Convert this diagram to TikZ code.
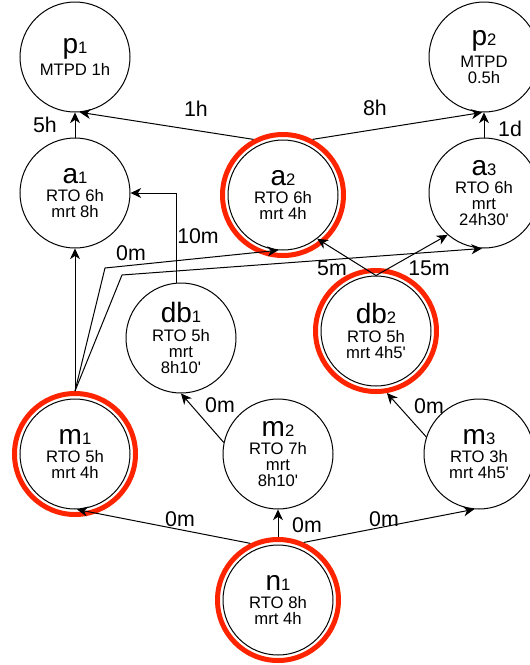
\documentclass[tikz,border=0pt]{standalone}
\usepackage{fontspec}
\setmainfont{Liberation Sans}
\usetikzlibrary{arrows.meta}

\tikzset{every picture/.style={line width=0.75pt}}
\tikzset{
	state/.style={circle, draw, minimum size=82.5pt, inner sep=0pt, align=center, font=\fontsize{12.5pt}{12pt}\selectfont},
	ring/.style={circle, draw={rgb, 255:red, 255; green, 36; blue, 0}, line width=3.75pt, minimum size=90.75pt, inner sep=0pt},
	link/.style={-{Stealth[length=8pt,width=7.5pt,inset=2.5pt]}},
	lbl/.style={inner sep=0pt, font=\fontsize{16pt}{16pt}\selectfont}
}
\newcommand{\stname}[2]{{\fontsize{21pt}{21pt}\selectfont #1}{\fontsize{12.5pt}{12pt}\selectfont #2}\\[2pt]}

\begin{document}
\begin{tikzpicture}[x=0.75pt,y=0.75pt,yscale=-1,xscale=1]
	\useasboundingbox (0,0) rectangle (530,665);

	%Shape: Circle [processes]
	\node[state] (p1) at (75,57) {\stname{p}{1}MTPD 1h};
	\node[state] (p2) at (484,57) {\stname{p}{2}MTPD\\0.5h};
	%Shape: Circle [applications]
	\node[state] (a1) at (75,193) {\stname{a}{1}RTO 6h\\mrt 8h};
	\node[state] (a2) at (283,195) {\stname{a}{2}RTO 6h\\mrt 4h};
	\node[state] (a3) at (484,193) {\stname{a}{3}RTO 6h\\mrt\\24h30\textquotesingle};
	%Shape: Circle [databases]
	\node[state] (db1) at (181,338) {\stname{db}{1}RTO 5h\\mrt\\8h10\textquotesingle};
	\node[state] (db2) at (376,331) {\stname{db}{2}RTO 5h\\mrt 4h5\textquotesingle};
	%Shape: Circle [machines]
	\node[state] (m1) at (75,454) {\stname{m}{1}RTO 5h\\mrt 4h};
	\node[state] (m2) at (278,454) {\stname{m}{2}RTO 7h\\mrt\\8h10\textquotesingle};
	\node[state] (m3) at (479,454) {\stname{m}{3}RTO 3h\\mrt 4h5\textquotesingle};
	%Shape: Circle [network]
	\node[state] (n1) at (278,600) {\stname{n}{1}RTO 8h\\mrt 4h};

	%Shape: Ring [critical path]
	\node[ring] (a2r) at (a2) {};
	\node[ring] (db2r) at (db2) {};
	\node[ring] (m1r) at (m1) {};
	\node[ring] (n1r) at (n1) {};

	%Straight Lines
	\draw[link] (a1.north) -- (p1.south);
	\draw[link] (a2r.118) -- (p1.-85);
	\draw[link] (a2r.62) -- (p2.-92);
	\draw[link] (a3.north) -- (p2.south);
	\draw[link] (db1.95) |- (a1.east);
	\draw[link] (m1r.north) -- (a1.south);
	\draw[link] (m1r.north) -- (105,268) -- (a2.-95);
	\draw[link] (m1r.north) -- (122,275) -- (a3.-92);
	\draw[link] (db2.north) -- (a2.-52);
	\draw[link] (db2.north) -- (a3.-131);
	\draw[link] (m2.168) -- (db1.south);
	\draw[link] (m3.162) -- (db2r.-80);
	\draw[link] (n1r.116) -- (m1.-88);
	\draw[link] (n1r.north) -- (m2.south);
	\draw[link] (n1r.66) -- (m3.-95);

	% Text Node
	\node[lbl] (t5h) at (45,125) {5h};
	\node[lbl] (t1h) at (196,109) {1h};
	\node[lbl] (t8h) at (375,108) {8h};
	\node[lbl] (t1d) at (510,129) {1d};
	\node[lbl] (t10m) at (198,236) {10m};
	\node[lbl] (t0ma) at (131,253) {0m};
	\node[lbl] (t5m) at (332,268) {5m};
	\node[lbl] (t15m) at (429,268) {15m};
	\node[lbl] (t0mb) at (220,405) {0m};
	\node[lbl] (t0mc) at (429,406) {0m};
	\node[lbl] (t0md) at (180,519) {0m};
	\node[lbl] (t0me) at (307,525) {0m};
	\node[lbl] (t0mf) at (384,519) {0m};

\end{tikzpicture}
\end{document}
